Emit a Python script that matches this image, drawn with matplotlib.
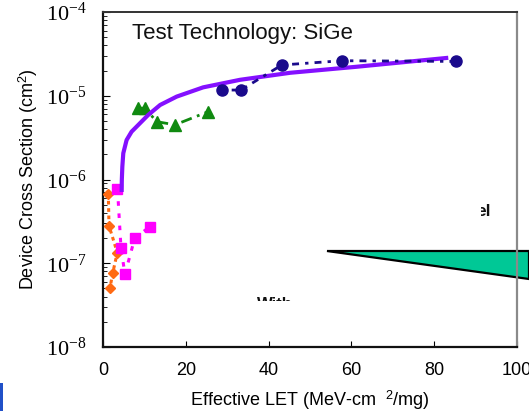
import matplotlib
matplotlib.use("Agg")
import matplotlib.pyplot as plt
from matplotlib.patches import Polygon, Rectangle
from matplotlib.transforms import Bbox

plt.rcParams['font.family'] = ['Liberation Sans', 'DejaVu Sans']
plt.rcParams['mathtext.fontset'] = 'custom'
plt.rcParams['mathtext.rm'] = 'Liberation Serif'
plt.rcParams['mathtext.it'] = 'Liberation Serif:italic'
plt.rcParams['mathtext.sf'] = 'Liberation Sans'

# ---- data ----
circ_let = [28.8, 33.3, 43.2, 57.7, 85.3]
circ_sig = [1.17e-5, 1.17e-5, 2.33e-5, 2.62e-5, 2.57e-5]

tri_let = [8.5, 10.1, 13.0, 17.4, 25.4]
tri_sig = [7.1e-6, 7.1e-6, 4.9e-6, 4.5e-6, 6.45e-6]

sq_let = [3.5, 4.35, 5.3, 7.7, 11.4]
sq_sig = [7.7e-7, 1.51e-7, 7.4e-8, 2.02e-7, 2.74e-7]

dia_let = [1.28, 1.45, 3.45, 2.34, 1.7]
dia_sig = [6.8e-7, 2.8e-7, 1.34e-7, 7.6e-8, 5.1e-8]

fit_let = [4.5, 4.55, 4.67, 4.9, 5.7, 6.9, 8.5, 10.9, 13.8, 17.8, 24.2, 33.1, 45.2, 61.3, 83.4]
fit_sig = [7.1e-7, 1.0e-6, 1.42e-6, 2.06e-6, 2.96e-6, 3.72e-6, 4.47e-6, 5.89e-6,
           7.76e-6, 9.77e-6, 1.26e-5, 1.55e-5, 1.88e-5, 2.22e-5, 2.84e-5]

x_ticks = [0, 20, 40, 60, 80, 100]
y_ticks = [1e-8, 1e-7, 1e-6, 1e-5, 1e-4]
y_ticklabels = ['$10^{-8}$', '$10^{-7}$', '$10^{-6}$', '$10^{-5}$', '$10^{-4}$']

W, H = 529, 411
fig = plt.figure(figsize=(W / 100, H / 100), dpi=100)
ax = fig.add_axes([103 / W, 1 - 347 / H, (517 - 103) / W, (347 - 12) / H])

ax.set_yscale('log')
ax.set_xlim(0, 100)
ax.set_ylim(1e-8, 1e-4)

ax.plot(dia_let, dia_sig, linestyle=(0, (1.2, 1.2)), color='#FF6A13', lw=2.2,
        marker='D', ms=5.5, mec='#FF6A13', mfc='#FF6A13', zorder=3)
ax.plot(sq_let, sq_sig, linestyle=(0, (1.5, 2.5)), color='#FF00FF', lw=2.2,
        marker='s', ms=7.5, mec='#FF00FF', mfc='#FF00FF', zorder=3)
ax.plot(tri_let, tri_sig, linestyle=(0, (4, 2, 1, 2)), color='#108A10', lw=2.0,
        marker='^', ms=8, mec='#108A10', mfc='#108A10', zorder=3)
ax.plot(fit_let, fit_sig, '-', color='#8410FF', lw=3.0, solid_capstyle='butt', zorder=4)
ax.plot(circ_let, circ_sig, linestyle=(0, (1.2, 2.2, 2.5, 2.2)), color='#1A0A8C', lw=2.0,
        marker='o', ms=8, mec='#1A0A8C', mfc='#1A0A8C', zorder=5)

ax.set_xticks(x_ticks)
ax.set_xticklabels([str(v) for v in x_ticks])
ax.set_yticks(y_ticks)
ax.set_yticklabels(y_ticklabels)
ax.tick_params(axis='x', direction='in', length=4, width=0.8, pad=11, labelsize=13,
               top=False)
ax.tick_params(axis='y', which='major', direction='in', length=5, width=0.8, pad=12,
               labelsize=16, right=False)
ax.tick_params(axis='y', which='minor', direction='in', length=3, width=0.6, right=False)

for s in ['left', 'bottom']:
    ax.spines[s].set_linewidth(1.6)
    ax.spines[s].set_color('#111111')
ax.spines['top'].set_linewidth(1.4)
ax.spines['top'].set_color('#333333')
ax.spines['right'].set_linewidth(1.6)
ax.spines['right'].set_color('#8a8a8a')

ax.set_ylabel('Device Cross Section (cm$^{\\mathsf{2}}$)', fontsize=13, labelpad=4)
ax.set_xlabel('Effective LET (MeV-cm  $^{\\mathsf{2}}$/mg)', fontsize=13, labelpad=7)

ax.text(132 / W, 1 - 34 / H, 'Test Technology: SiGe', transform=fig.transFigure,
        fontsize=16, ha='left', va='center', color='#111111')

# callout shape (partially hidden annotation)
poly = Polygon([(326.7 / W, 1 - 251 / H), (1.0, 1 - 251 / H), (1.0, 1 - 278.5 / H)],
               closed=True, transform=fig.transFigure, facecolor='#00C896',
               edgecolor='black', lw=1.6, clip_on=False, zorder=1)
ax.add_patch(poly)

# partially hidden text fragments
t1 = fig.text(491 / W, 1 - 211 / H, 'el', fontsize=12.5, fontweight='bold',
              ha='right', va='center', color='#111111')
t1.set_clip_box(Bbox([[481, 0], [529, H]]))
t1.set_clip_on(True)

t2 = fig.text(257 / W, 1 - 304 / H, 'With', fontsize=12, fontweight='bold',
              ha='left', va='center', color='#111111')
t2.set_clip_box(Bbox([[250, H - 301], [292, H - 290]]))
t2.set_clip_on(True)

fig.patches.append(Rectangle((0, 0), 2.5 / W, 28 / H, transform=fig.transFigure,
                             facecolor='#2050C8', edgecolor='none'))

fig.savefig('out.png', dpi=100)
